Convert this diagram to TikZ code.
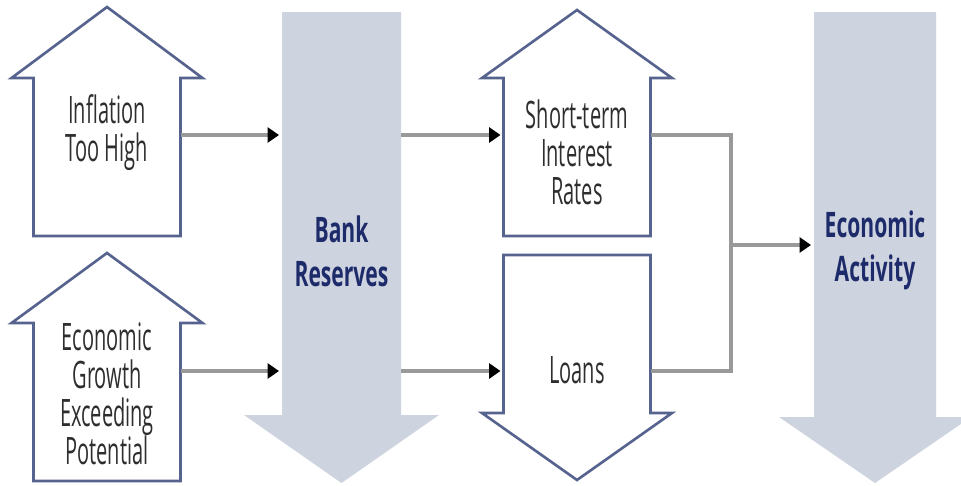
\documentclass[tikz,border=0pt]{standalone}
\usepackage{fontspec}
\setmainfont[FakeStretch=0.53]{Open Sans}
\newfontfamily\headfont[FakeStretch=0.6]{Open Sans}
\usetikzlibrary{arrows.meta}
\usepackage{xcolor}

\definecolor{edgeblue}{HTML}{56638F}
\definecolor{shadeblue}{HTML}{CDD3DF}
\definecolor{bodygray}{HTML}{2E2E2E}
\definecolor{headblue}{HTML}{1E2B6B}
\definecolor{linkgray}{HTML}{999999}

\tikzset{
  blockline/.style={draw=edgeblue,line width=1.5pt,fill=white},
  bigfill/.style={fill=shadeblue},
  blocktext/.style={align=center,inner xsep=0pt,text=bodygray,
    font=\fontsize{21.5}{21.6}\selectfont},
  headtext/.style={align=center,inner xsep=0pt,text=headblue,
    font=\headfont\bfseries\fontsize{20}{25}\selectfont},
  link/.style={draw=linkgray,line width=1.9pt,shorten >=1.5pt,
    -{Triangle[length=6.5pt,width=8.5pt,black]}},
  bracket/.style={draw=linkgray,line width=1.9pt},
}

\begin{document}
\begin{tikzpicture}[x=0.02cm,y=-0.02cm]
  \useasboundingbox (0,0) rectangle (961,485);
  % style, centre x, tip y, head base y, tail y, half shaft, half head
  \newcommand{\blockarrow}[7]{%
    \path[#1] (#2,#3) -- (#2+#7,#4) -- (#2+#6,#4) -- (#2+#6,#5)
      -- (#2-#6,#5) -- (#2-#6,#4) -- (#2-#7,#4) -- cycle;
  }
  \blockarrow{blockline}{107}{7}{78}{236}{73.5}{95.5}
  \blockarrow{blockline}{107}{253}{323}{481}{73.5}{95.5}
  \blockarrow{bigfill}{341.5}{483}{415}{12}{59.5}{97.5}
  \blockarrow{blockline}{577}{10}{78}{236}{73.5}{95}
  \blockarrow{blockline}{577}{480}{413}{255}{73.5}{95}
  \blockarrow{bigfill}{875}{483}{417}{12}{61}{96}

  \node[blocktext,minimum width=2.94cm] (infl) at (107,133) {Inflation\\Too High};
  \node[blocktext,minimum width=2.94cm] (growth) at (107,394)
    {Economic\\Growth\\Exceeding\\Potential};
  \node[headtext,minimum width=2.38cm] (bank) at (341.5,251) {Bank\\Reserves};
  \node[blocktext,minimum width=2.94cm] (rates) at (577,152)
    {Short-term\\Interest\\Rates};
  \node[blocktext,minimum width=2.94cm] (loans) at (577,370) {Loans};
  \node[headtext,minimum width=2.44cm] (activity) at (875,250) {Economic\\Activity};

  \coordinate (rowa) at (0,135);
  \coordinate (rowb) at (0,371);
  \coordinate (hub) at (731,245);

  \draw[link] (infl.east |- rowa) -- (bank.west |- rowa);
  \draw[link] (growth.east |- rowb) -- (bank.west |- rowb);
  \draw[link] (bank.east |- rowa) -- (rates.west |- rowa);
  \draw[link] (bank.east |- rowb) -- (loans.west |- rowb);
  \draw[bracket] (rates.east |- rowa) -| (hub) |- (loans.east |- rowb);
  \draw[link] (hub) -- (activity.west |- hub);
\end{tikzpicture}
\end{document}
